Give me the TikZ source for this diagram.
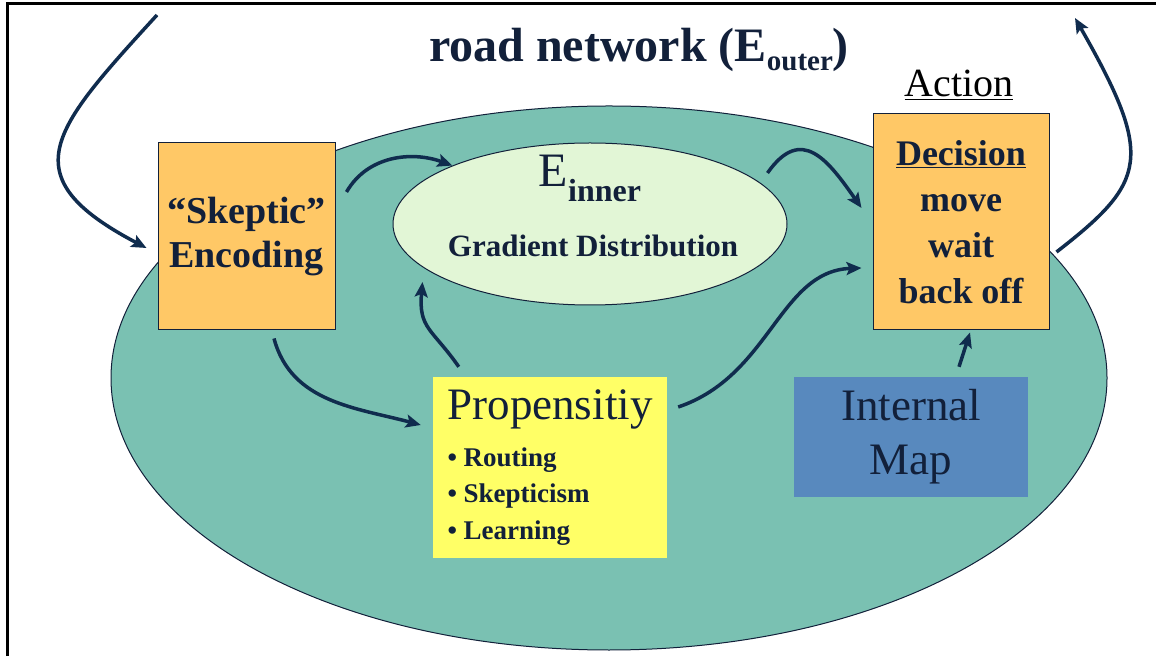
\documentclass[tikz,border=0pt]{standalone}
\usepackage{fontspec}
\setmainfont{Liberation Serif}
\usetikzlibrary{arrows.meta,shapes.geometric}
\definecolor{netteal}{RGB}{122,193,178}
\definecolor{innergreen}{RGB}{226,246,214}
\definecolor{boxorange}{RGB}{255,200,102}
\definecolor{propyellow}{RGB}{255,255,102}
\definecolor{mapblue}{RGB}{88,137,190}
\definecolor{arrownavy}{RGB}{16,44,78}
\definecolor{textnavy}{RGB}{18,32,58}
\begin{document}
\begin{tikzpicture}[x=1pt,y=1pt,
  flow/.style={draw=arrownavy,line width=3.5pt,-{Stealth[length=15pt,width=13pt,inset=3pt]}},
  box/.style={rectangle,inner sep=0pt,align=center,text=textnavy},
  ]
\useasboundingbox (0,0) rectangle (1156,656);
\fill[white] (0,0) rectangle (1156,656);
\draw[line width=3pt] (7,0) -- (7,652) -- (1156,652);
\node[ellipse, draw=textnavy, line width=1pt, fill=netteal, minimum width=996pt, minimum height=544pt, inner sep=0pt] (outer) at (609,278){};
\node[ellipse, draw=textnavy, line width=1pt, fill=innergreen, minimum width=394pt, minimum height=162pt, inner sep=0pt] (inner) at (590,432){};
\node[anchor=base, text=textnavy, font=\fontsize{48}{50}\selectfont] (einner) at ([yshift=37pt]inner.center){E\raisebox{-15pt}{\bfseries\fontsize{32}{32}\selectfont inner}};
\node[anchor=base, text=textnavy, font=\bfseries\fontsize{31}{32}\selectfont] (gradient) at ([xshift=3pt,yshift=-33pt]inner.center){Gradient Distribution};
\node[anchor=base, text=textnavy, font=\bfseries\fontsize{48}{50}\selectfont] (title) at (639,594){road network (E\raisebox{-9pt}{\fontsize{29}{30}\selectfont outer})};
\node[anchor=base, font=\fontsize{40}{42}\selectfont] (action) at (959,559){\underline{Action}};
\node[box, draw=textnavy, line width=1pt, fill=boxorange, minimum width=177pt, minimum height=187pt, font=\bfseries\fontsize{38}{44}\selectfont] (skep) at (246.5,419.5){“Skeptic”\\Encoding};
\node[box, draw=textnavy, line width=1pt, fill=boxorange, minimum width=176pt, minimum height=216pt, font=\bfseries\fontsize{36}{46}\selectfont] (dec) at (961,434){\underline{Decision}\\move\\wait\\back off};
\node[box, fill=propyellow, align=left, minimum width=234pt, minimum height=181pt, font=\bfseries\fontsize{27}{36.5}\selectfont] (prop) at (550,188.5){{\mdseries\fontsize{45}{47}\selectfont Propensitiy}\\[10.5pt]\textbullet\ Routing\\\textbullet\ Skepticism\\\textbullet\ Learning};
\node[box, fill=mapblue, minimum width=234pt, minimum height=120pt, font=\fontsize{45}{54}\selectfont] (imap) at (911,219){Internal\\Map};
\coordinate (in) at (157,641);
\coordinate (out) at (1075,638);
\draw[flow] (in) .. controls +(-105,-115) and +(-137,72) .. ([shift={(-11,-11.5)}]skep.west);
\draw[flow] ([shift={(11,44.5)}]skep.east) to[out=60,in=160] (inner.157);
\draw[flow] ([shift={(-20,51)}]inner.east) to[out=55,in=125,looseness=1.5] ([shift={(-11,14)}]dec.west);
\draw[flow] ([shift={(11,60.5)}]prop.east) .. controls +(92,31) and +(-82,-3) .. ([shift={(-11,-46)}]dec.west);
\draw[flow] ([shift={(26,10)}]prop.north west) to[out=125,in=-95,looseness=1.3] ([shift={(30,-58)}]inner.west);
\draw[flow] ([shift={(27.5,-8)}]skep.south) to[out=-75,in=165] ([shift={(-12,42.5)}]prop.west);
\draw[flow] ([shift={(48,10)}]imap.north) -- ([shift={(9,-2)}]dec.south);
\draw[flow] ([shift={(7,-30)}]dec.east) .. controls +(90,70) and +(80,-140) .. (out);
\end{tikzpicture}
\end{document}
